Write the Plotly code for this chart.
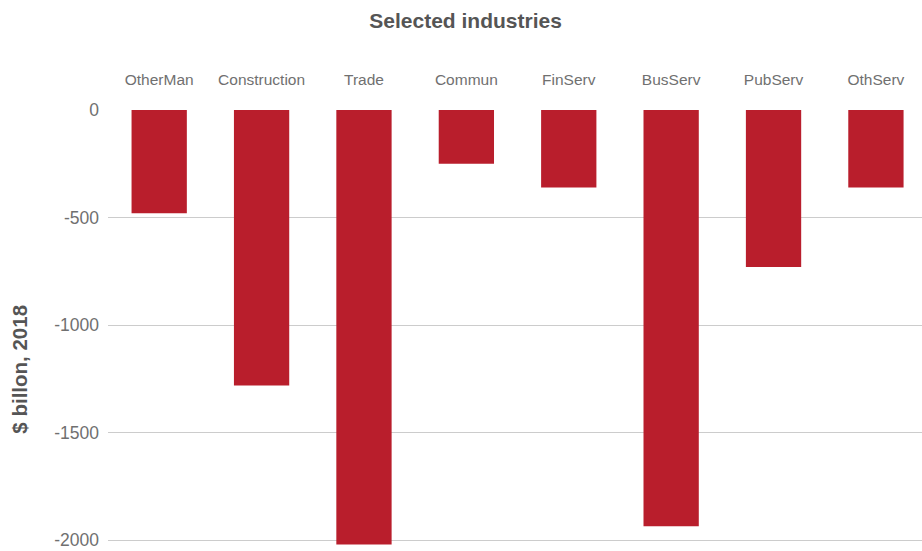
import plotly.graph_objects as go

categories = ["OtherMan", "Construction", "Trade", "Commun", "FinServ", "BusServ", "PubServ", "OthServ"]
values = [-480, -1280, -2020, -250, -360, -1935, -730, -360]
y_tick_vals = [0, -500, -1000, -1500, -2000]
y_tick_text = ["0", "-500", "-1000", "-1500", "-2000"]

FONT = "Liberation Sans, Arial, sans-serif"
GREY = "#707070"

fig = go.Figure(go.Bar(
    x=categories, y=values,
    marker=dict(color="#B91E2C", line=dict(width=0)),
    hoverinfo="x+y",
))

fig.update_layout(
    width=922, height=551,
    margin=dict(l=108, r=0, t=110, b=1),
    paper_bgcolor="white", plot_bgcolor="white",
    bargap=0.46,
    showlegend=False,
    font=dict(family=FONT, color=GREY),
    title=dict(text="<b>Selected industries</b>", x=0.505, xanchor="center",
               y=0.962, yanchor="middle",
               font=dict(size=21, color="#555555", family=FONT)),
    xaxis=dict(side="top", range=[-0.5, 7.45], showgrid=False, zeroline=False,
               showline=False, ticks="", ticklabelstandoff=21,
               tickfont=dict(size=15.5, color=GREY, family=FONT)),
    yaxis=dict(range=[-2045, 0], tickvals=y_tick_vals, ticktext=y_tick_text,
               showgrid=True, gridcolor="#cccccc", gridwidth=1,
               zeroline=False, showline=False, ticks="", ticklabelstandoff=8,
               tickfont=dict(size=17.5, color=GREY, family=FONT)),
    annotations=[dict(text="<b>$ billon, 2018</b>", xref="paper", yref="paper",
                      x=-0.108, y=0.41, xanchor="center", yanchor="middle",
                      textangle=-90, showarrow=False,
                      font=dict(size=20.5, color="#555555", family=FONT))],
)

fig.write_html("out.html")
